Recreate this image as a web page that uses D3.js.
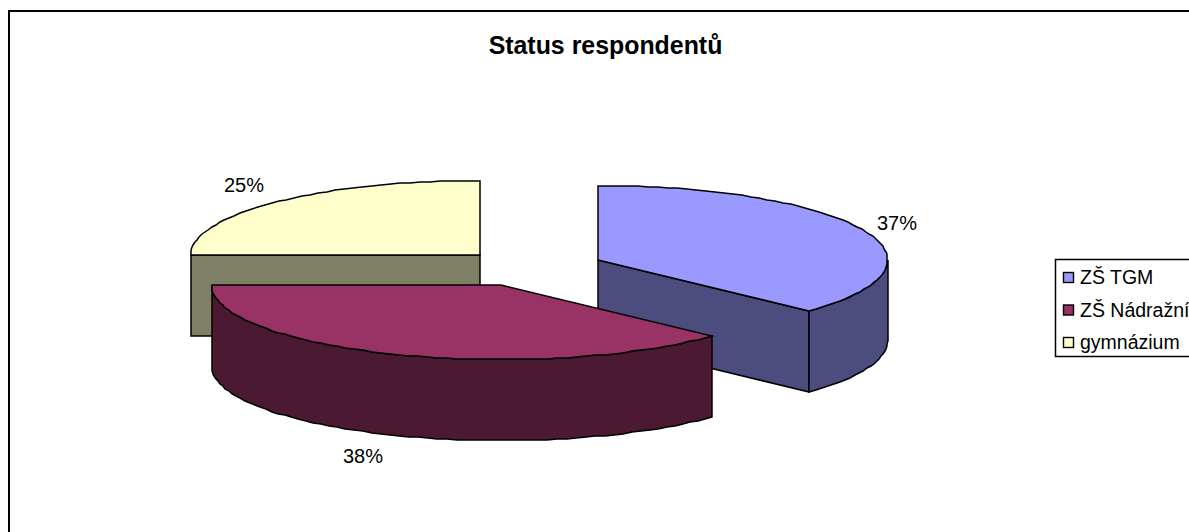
<!DOCTYPE html>
<html><head><meta charset="utf-8">
<script src="https://cdn.jsdelivr.net/npm/d3@7"></script>
<style>html,body{margin:0;padding:0;background:#fff;overflow:hidden}svg{display:block}text{font-family:"Liberation Sans",Arial,sans-serif;fill:#000}</style>
</head><body><svg id="c" width="1189" height="532"></svg>
<script>
const title = "Status respondentů";
const categories = ["ZŠ TGM", "ZŠ Nádražní", "gymnázium"];
const shares = [37, 38, 25];
const topColors = ["#9999FF", "#993366", "#FFFFCC"];
const sideColors = ["#4C4C7F", "#4C1933", "#7F7F66"];

const svg = d3.select("#c");
const rx = 289.5, ry = 74.5, depth = 81;
const apex = [[598,260],[501,285],[480,255]];
const labelPos = [[897,223],[363,456],[244,185]];

svg.append("rect").attr("x",9).attr("y",11).attr("width",1300).attr("height",700)
  .attr("fill","#fff").attr("stroke","#000").attr("stroke-width",2);

svg.append("text").attr("x",605.5).attr("y",53.5).attr("text-anchor","middle")
  .attr("font-weight","bold").attr("font-size",24.9).text(title);

const arcs = d3.pie().sort(null)(shares);
const pt = (c,a,dy=0)=>[Math.round(c[0]+rx*Math.sin(a)), Math.round(c[1]-ry*Math.cos(a))+dy];
const line = d3.line();
function samples(a0,a1){
  const n = Math.max(2,Math.ceil(Math.abs(a1-a0)/0.035));
  return d3.range(n+1).map(i=>a0+(a1-a0)*i/n);
}
const strokeAttrs = s=>s.attr("stroke","#000").attr("stroke-width",1.5).attr("stroke-linejoin","miter");

function wall(g,c,a0,a1,fill){
  const as = samples(a0,a1);
  const pts = as.map(a=>pt(c,a)).concat(as.slice().reverse().map(a=>pt(c,a,depth)));
  g.append("path").attr("d",line(pts)+"Z").attr("fill",fill).call(strokeAttrs);
}
function radial(g,c,a,fill){
  const p = pt(c,a);
  g.append("path").attr("d",line([c,p,[p[0],p[1]+depth],[c[0],c[1]+depth]])+"Z").attr("fill",fill).call(strokeAttrs);
}
function topFace(g,c,a0,a1,fill){
  const pts=[c].concat(samples(a0,a1).map(a=>pt(c,a)));
  g.append("path").attr("d",line(pts)+"Z").attr("fill",fill).call(strokeAttrs);
}
// paint order: back slice first, then right, then front
[2,0,1].forEach(i=>{
  const d=arcs[i], c=apex[i], g=svg.append("g");
  if(i===0){ radial(g,c,d.endAngle,sideColors[i]); wall(g,c,Math.PI/2,d.endAngle,sideColors[i]); }
  if(i===1){ wall(g,c,d.startAngle,d.endAngle,sideColors[i]); }
  if(i===2){ radial(g,c,d.startAngle,sideColors[i]); }
  topFace(g,c,d.startAngle,d.endAngle,topColors[i]);
});

shares.forEach((v,i)=>svg.append("text").attr("x",labelPos[i][0]).attr("y",labelPos[i][1])
  .attr("text-anchor","middle").attr("dy","0.35em").attr("font-size",20).text(v+"%"));

// legend
const lg = svg.append("g");
lg.append("rect").attr("x",1055.5).attr("y",259.5).attr("width",200).attr("height",97)
  .attr("fill","#fff").attr("stroke","#000").attr("stroke-width",1.5);
const ly = d3.scalePoint().domain(categories).range([277.5,342.5]);
categories.forEach((n,i)=>{
  lg.append("rect").attr("x",1063.5).attr("y",ly(n)-5).attr("width",10).attr("height",10)
    .attr("fill",topColors[i]).attr("stroke","#000").attr("stroke-width",1.4);
  lg.append("text").attr("x",1080).attr("y",ly(n)).attr("dy","0.35em").attr("font-size",19.5).text(n);
});
</script></body></html>
